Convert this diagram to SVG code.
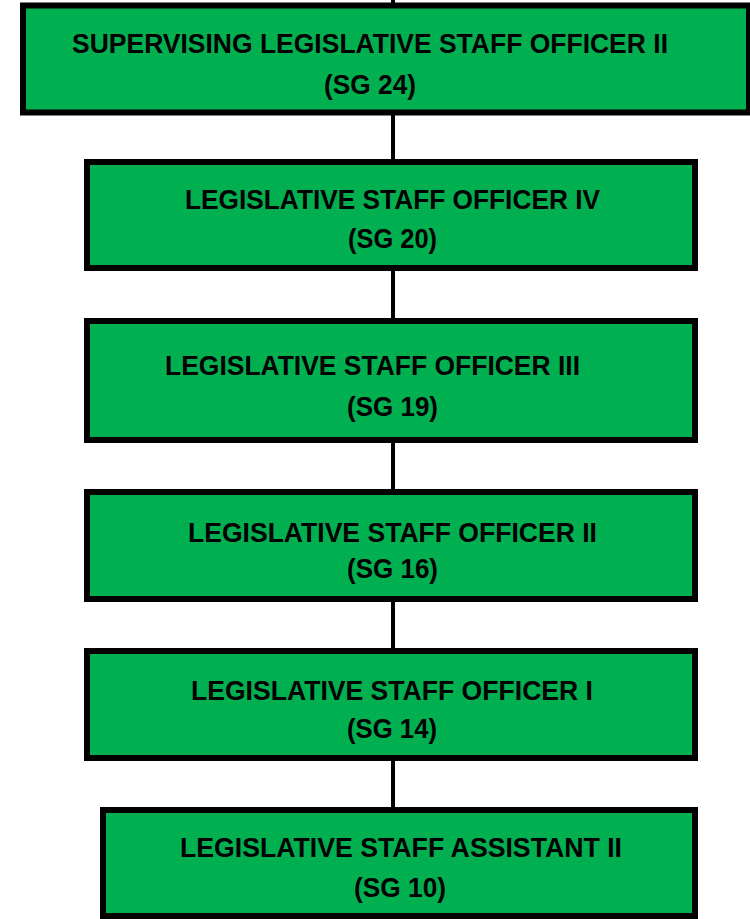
<svg xmlns="http://www.w3.org/2000/svg" width="750" height="919" viewBox="0 0 750 919">
<style>
.box{fill:#00B050;stroke:#000;stroke-width:6}
.t{font-family:"Liberation Sans",Arial,sans-serif;font-weight:bold;font-size:27.5px;fill:#000;text-anchor:middle}
.conn{stroke:#000;stroke-width:4;fill:none}
</style>
<rect width="750" height="919" fill="#fff"/>
<g id="connectors">
<line class="conn" x1="393" y1="0" x2="393" y2="810"/>
</g>
<g id="node-slso2">
<rect class="box" x="23" y="5.5" width="726" height="107"/>
<text class="t" x="370" y="53" textLength="596" lengthAdjust="spacingAndGlyphs">SUPERVISING LEGISLATIVE STAFF OFFICER II</text>
<text class="t" x="370" y="94" textLength="92" lengthAdjust="spacingAndGlyphs">(SG 24)</text>
</g>
<g id="node-lso4">
<rect class="box" x="87" y="162" width="608" height="106"/>
<text class="t" x="392.5" y="209" textLength="415" lengthAdjust="spacingAndGlyphs">LEGISLATIVE STAFF OFFICER IV</text>
<text class="t" x="392.5" y="248" textLength="89" lengthAdjust="spacingAndGlyphs">(SG 20)</text>
</g>
<g id="node-lso3">
<rect class="box" x="87" y="321" width="608" height="119"/>
<text class="t" x="372.5" y="375" textLength="415" lengthAdjust="spacingAndGlyphs">LEGISLATIVE STAFF OFFICER III</text>
<text class="t" x="392.5" y="416" textLength="91" lengthAdjust="spacingAndGlyphs">(SG 19)</text>
</g>
<g id="node-lso2">
<rect class="box" x="87" y="492" width="608" height="107"/>
<text class="t" x="392.5" y="542" textLength="409" lengthAdjust="spacingAndGlyphs">LEGISLATIVE STAFF OFFICER II</text>
<text class="t" x="392.5" y="578" textLength="91" lengthAdjust="spacingAndGlyphs">(SG 16)</text>
</g>
<g id="node-lso1">
<rect class="box" x="87" y="651" width="608" height="107"/>
<text class="t" x="392" y="700" textLength="402" lengthAdjust="spacingAndGlyphs">LEGISLATIVE STAFF OFFICER I</text>
<text class="t" x="392" y="738" textLength="90" lengthAdjust="spacingAndGlyphs">(SG 14)</text>
</g>
<g id="node-lsa2">
<rect class="box" x="103" y="810" width="592" height="106"/>
<text class="t" x="401" y="857" textLength="442" lengthAdjust="spacingAndGlyphs">LEGISLATIVE STAFF ASSISTANT II</text>
<text class="t" x="400" y="897" textLength="92" lengthAdjust="spacingAndGlyphs">(SG 10)</text>
</g>
</svg>
